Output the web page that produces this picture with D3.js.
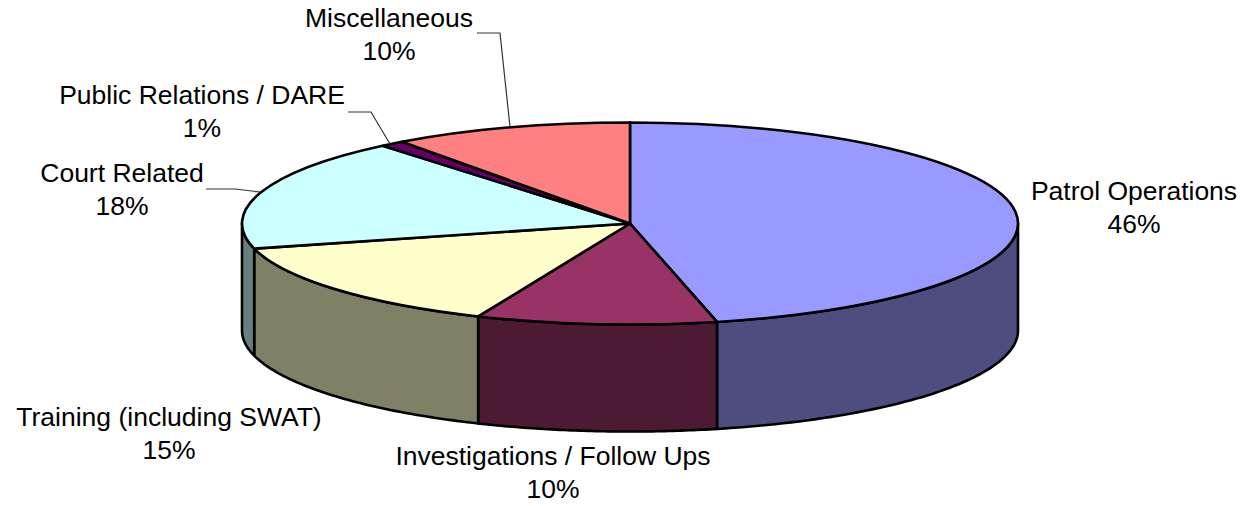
<!DOCTYPE html>
<html>
<head>
<style>
    body { margin: 0; background: #fff; }
    text { font-family: "Liberation Sans", Arial, sans-serif; font-size: 26.5px; fill: #000; text-anchor: middle; }
    .slice, .wall { stroke: #000; stroke-width: 2.6px; stroke-linejoin: round; vector-effect: non-scaling-stroke; }
    .leader { fill: none; stroke: #333; stroke-width: 1.2px; }
</style>
</head>
<body>
<svg id="chart" width="1245" height="506"></svg>
<script src="https://d3js.org/d3.v7.min.js"></script>
<script>
    // values, in drawing order clockwise from 12 o'clock
    const categories = ["Patrol Operations", "Investigations / Follow Ups", "Training (including SWAT)", "Court Related", "Public Relations / DARE", "Miscellaneous"]
    const values = [46.4, 10.0, 14.6, 18.0, 1.0, 10.0]
    const topColors = ["#9999ff", "#993366", "#ffffcc", "#ccffff", "#660066", "#ff8080"]
    const wallColors = ["#4d4d80", "#4d1a33", "#808066", "#668080", "#330033", "#804040"]

    // where the labels sit, x = centre, y = baseline of first line
    const labelAt = [[1134, 200], [553, 465], [169, 426], [122, 182], [202, 104], [389, 27]]
    const leaders = [null, null, null,
        [[206, 189], [235, 189], [260, 192]],
        [[348, 112], [371, 112], [390, 144]],
        [[477, 33], [500, 33], [510, 127]]]

    const cx = 630, cy = 223.5, rx = 388, ry = 101, depth = 107

    const svg = d3.select("#chart")
    const pct = d3.format(".0f")

    const pie = d3.pie().sort(null)
    const arcs = pie(values)

    // side walls, only the part of each slice that faces the viewer
    const xEllipse = a => cx + rx * Math.sin(a)
    const yEllipse = a => cy - ry * Math.cos(a)
    const edge = d3.line().x(d => xEllipse(d)).y(d => yEllipse(d))

    function wallPath(d) {
        const a0 = Math.max(d.startAngle, Math.PI / 2)
        const a1 = Math.min(d.endAngle, Math.PI * 3 / 2)
        if (a0 >= a1) return null
        const steps = d3.range(0, 61).map(i => a0 + (a1 - a0) * i / 60)
        const top = edge(steps)
        const bottom = d3.line().x(a => xEllipse(a)).y(a => yEllipse(a) + depth)(steps.slice().reverse())
        return top + "L" + bottom.slice(1) + "Z"
    }

    svg.append("g").selectAll("path")
        .data(arcs.filter(d => wallPath(d)))
        .join("path")
        .attr("class", "wall")
        .attr("d", wallPath)
        .attr("fill", d => wallColors[d.index])

    // top face, circle squashed into an ellipse
    const arc = d3.arc().innerRadius(0).outerRadius(rx)
    svg.append("g")
        .attr("transform", "translate(" + cx + "," + cy + ") scale(1," + (ry / rx) + ")")
        .selectAll("path")
        .data(arcs)
        .join("path")
        .attr("class", "slice")
        .attr("d", arc)
        .attr("fill", d => topColors[d.index])

    svg.append("g").selectAll("polyline")
        .data(leaders.filter(d => d))
        .join("polyline")
        .attr("class", "leader")
        .attr("points", d => d.join(" "))

    const labels = svg.append("g").selectAll("text")
        .data(categories)
        .join("text")
        .attr("transform", (d, i) => "translate(" + labelAt[i][0] + "," + labelAt[i][1] + ")")
    labels.append("tspan").attr("x", 0).attr("y", 0).text(d => d)
    labels.append("tspan").attr("x", 0).attr("y", 33).text((d, i) => pct(values[i]) + "%")
</script>
</body>
</html>
